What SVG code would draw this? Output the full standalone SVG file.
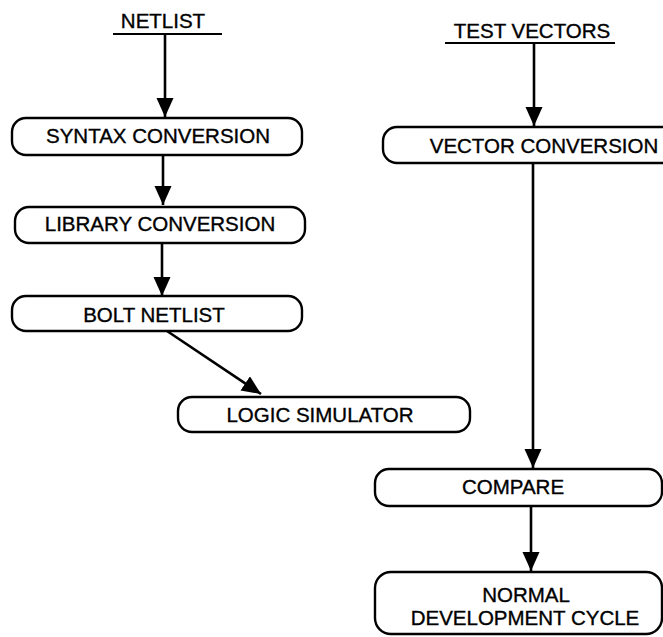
<svg xmlns="http://www.w3.org/2000/svg" width="663" height="637" viewBox="0 0 663 637">
<style>
.box{fill:#fff;stroke:#000;stroke-width:2.4}
.t{font-family:"Liberation Sans",Arial,Helvetica,sans-serif;font-size:20.5px;fill:#000;stroke:#000;stroke-width:0.35;text-anchor:middle}
.c{stroke:#000;stroke-width:2.6;fill:none}
.u{stroke:#000;stroke-width:2.2}
</style>
<defs>
<marker id="ah" markerUnits="userSpaceOnUse" markerWidth="22" markerHeight="20" refX="19" refY="8.5" orient="auto">
<path d="M0,0 L19,8.5 L0,17 z" fill="#000"/>
</marker>
</defs>
<rect width="663" height="637" fill="#fff"/>
<g id="netlist">
<text class="t" x="163" y="28">NETLIST</text>
<line class="u" x1="113" y1="34" x2="222" y2="34"/>
</g>
<g id="test-vectors">
<text class="t" x="532" y="38">TEST  VECTORS</text>
<line class="u" x1="445" y1="43" x2="615" y2="43"/>
</g>
<g id="syntax">
<rect class="box" x="12" y="118" width="290" height="37" rx="14"/>
<text class="t" x="158" y="143">SYNTAX CONVERSION</text>
</g>
<g id="library">
<rect class="box" x="15" y="207" width="290" height="36" rx="14"/>
<text class="t" x="160" y="231">LIBRARY CONVERSION</text>
</g>
<g id="bolt">
<rect class="box" x="12" y="296" width="290" height="35" rx="14"/>
<text class="t" x="154" y="322">BOLT NETLIST</text>
</g>
<g id="logic">
<rect class="box" x="178" y="397" width="292" height="35" rx="14"/>
<text class="t" x="320" y="422">LOGIC SIMULATOR</text>
</g>
<g id="vector">
<rect class="box" x="383" y="127" width="300" height="36" rx="14"/>
<text class="t" x="544" y="153">VECTOR CONVERSION</text>
</g>
<g id="compare">
<rect class="box" x="375" y="469" width="287" height="37" rx="14"/>
<text class="t" x="513" y="494">COMPARE</text>
</g>
<g id="normal">
<rect class="box" x="375" y="572" width="287" height="62" rx="16"/>
<text class="t" x="526" y="602">NORMAL</text>
<text class="t" x="525" y="625">DEVELOPMENT CYCLE</text>
</g>
<g id="connectors">
<line class="c" x1="165" y1="34" x2="165" y2="117" marker-end="url(#ah)"/>
<line class="c" x1="163" y1="155" x2="163" y2="205" marker-end="url(#ah)"/>
<line class="c" x1="162" y1="243" x2="162" y2="296" marker-end="url(#ah)"/>
<line class="c" x1="167" y1="331" x2="261" y2="394" marker-end="url(#ah)"/>
<line class="c" x1="534" y1="43" x2="534" y2="126" marker-end="url(#ah)"/>
<line class="c" x1="533" y1="163" x2="533" y2="468" marker-end="url(#ah)"/>
<line class="c" x1="531" y1="506" x2="531" y2="571" marker-end="url(#ah)"/>
</g>
</svg>
